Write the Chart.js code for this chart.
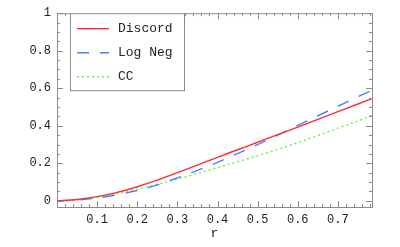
<!DOCTYPE html>
<html>
<head>
<meta charset="utf-8">
<script src="https://cdn.jsdelivr.net/npm/chart.js@4/dist/chart.umd.min.js"></script>
<style>
  html, body { margin: 0; padding: 0; background: #fff; }
  #wrap { width: 400px; height: 247px; }
</style>
</head>
<body>
<div id="wrap"><canvas id="myChart"></canvas></div>
<script>
// values
var rValues = [0, 0.05, 0.1, 0.15, 0.2, 0.25, 0.3, 0.35, 0.4, 0.45, 0.5, 0.55, 0.6, 0.65, 0.7, 0.75, 0.785];
var discord = [0, 0.007, 0.022, 0.045, 0.075, 0.11, 0.15, 0.19, 0.232, 0.272, 0.312, 0.353, 0.393, 0.434, 0.475, 0.516, 0.545];
var logNeg  = [0, 0.004, 0.015, 0.032, 0.055, 0.085, 0.122, 0.162, 0.205, 0.252, 0.30, 0.35, 0.402, 0.453, 0.504, 0.555, 0.59];
var cc      = [0, 0.005, 0.018, 0.038, 0.062, 0.088, 0.115, 0.145, 0.177, 0.208, 0.24, 0.274, 0.31, 0.348, 0.387, 0.425, 0.456];

var xTicks = [0.1, 0.2, 0.3, 0.4, 0.5, 0.6, 0.7];
var yTicks = [0, 0.2, 0.4, 0.6, 0.8, 1];

var monoFont = '"Liberation Mono", "DejaVu Sans Mono", monospace';
var frameColor = '#8c8c8c';

function pts(ys) {
    return rValues.map(function (r, i) { return { x: r, y: ys[i] }; });
}

var alldata = [
    {
        label: 'Discord',
        data: pts(discord),
        borderColor: 'rgb(255,45,45)',
        borderWidth: 1.4,
        borderDash: [],
    },
    {
        label: 'Log Neg',
        data: pts(logNeg),
        borderColor: 'rgb(70,130,255)',
        borderWidth: 1.4,
        borderDash: [12, 11],
    },
    {
        label: 'CC',
        data: pts(cc),
        borderColor: 'rgb(110,240,60)',
        borderWidth: 1.4,
        borderDash: [2, 3],
    }
];

// frame + inward ticks, Mathematica style
var framePlugin = {
    id: 'frame',
    afterDatasetsDraw: function (chart) {
        var ctx = chart.ctx, a = chart.chartArea;
        var xs = chart.scales.x, ys = chart.scales.y;
        ctx.save();
        ctx.strokeStyle = frameColor;
        ctx.lineWidth = 1;
        ctx.strokeRect(a.left + 0.5, a.top + 0.5, a.right - a.left, a.bottom - a.top);
        ctx.beginPath();
        // x ticks, minor every 0.02
        for (var k = 1; k * 0.02 < xs.max; k++) {
            var v = k * 0.02;
            var len = (k % 5 === 0) ? 6 : 3;
            var px = Math.round(xs.getPixelForValue(v)) + 0.5;
            ctx.moveTo(px, a.bottom); ctx.lineTo(px, a.bottom - len);
            ctx.moveTo(px, a.top); ctx.lineTo(px, a.top + len);
        }
        // y ticks, minor every 0.05
        for (var j = 0; j * 0.05 < ys.max + 0.001; j++) {
            var w = j * 0.05;
            var l2 = (j % 4 === 0) ? 6 : 3;
            var py = Math.round(ys.getPixelForValue(w)) + 0.5;
            ctx.moveTo(a.left, py); ctx.lineTo(a.left + l2, py);
            ctx.moveTo(a.right, py); ctx.lineTo(a.right - l2, py);
        }
        ctx.stroke();
        ctx.restore();
    }
};

// boxed legend in the upper left of the plot
var boxLegend = {
    id: 'boxLegend',
    afterDraw: function (chart) {
        var ctx = chart.ctx, a = chart.chartArea;
        var bx = a.left + 13, by = a.top, bw = 114, bh = 77;
        ctx.save();
        ctx.fillStyle = '#fff';
        ctx.fillRect(bx, by, bw, bh);
        ctx.strokeStyle = frameColor;
        ctx.lineWidth = 1;
        ctx.strokeRect(bx + 0.5, by + 0.5, bw, bh);
        ctx.font = '13px ' + monoFont;
        ctx.textBaseline = 'middle';
        chart.data.datasets.forEach(function (ds, i) {
            var y = by + 15.5 + i * 24;
            ctx.beginPath();
            ctx.strokeStyle = ds.borderColor;
            ctx.lineWidth = ds.borderWidth;
            ctx.setLineDash(ds.borderDash);
            ctx.moveTo(bx + 7, y);
            ctx.lineTo(bx + 39, y);
            ctx.stroke();
            ctx.setLineDash([]);
            ctx.fillStyle = '#222';
            ctx.fillText(ds.label, bx + 48, y);
        });
        ctx.restore();
    }
};

var canvas = document.getElementById('myChart').getContext('2d');
var myChart = new Chart(canvas, {
    type: 'line',
    data: { datasets: alldata },
    options: {
        responsive: true,
        maintainAspectRatio: false,
        animation: false,
        layout: { padding: { top: 12, right: 28, left: 0, bottom: 6 } },
        elements: {
            point: { radius: 0 },
            line: { cubicInterpolationMode: 'monotone', fill: false }
        },
        plugins: {
            legend: { display: false },
            tooltip: { enabled: false }
        },
        scales: {
            x: {
                type: 'linear',
                min: 0,
                max: 0.785,
                grid: { display: false, drawTicks: false },
                border: { display: false },
                afterBuildTicks: function (s) { s.ticks = xTicks.map(function (v) { return { value: v }; }); },
                afterFit: function (s) { s.height = 34; },
                ticks: {
                    padding: 6,
                    color: '#222',
                    font: { family: monoFont, size: 12 },
                    maxRotation: 0,
                    callback: function (value) { return String(value); }
                },
                title: {
                    display: true,
                    text: 'r',
                    color: '#222',
                    font: { family: monoFont, size: 13 },
                    padding: { top: 0, bottom: 0 }
                }
            },
            y: {
                min: -0.033,
                max: 1,
                grid: { display: false, drawTicks: false },
                border: { display: false },
                afterBuildTicks: function (s) { s.ticks = yTicks.map(function (v) { return { value: v }; }); },
                afterFit: function (s) { s.width = 57; },
                ticks: {
                    padding: 6,
                    color: '#222',
                    font: { family: monoFont, size: 12 },
                    callback: function (value) { return String(value); }
                }
            }
        }
    },
    plugins: [framePlugin, boxLegend]
});
</script>
</body>
</html>
